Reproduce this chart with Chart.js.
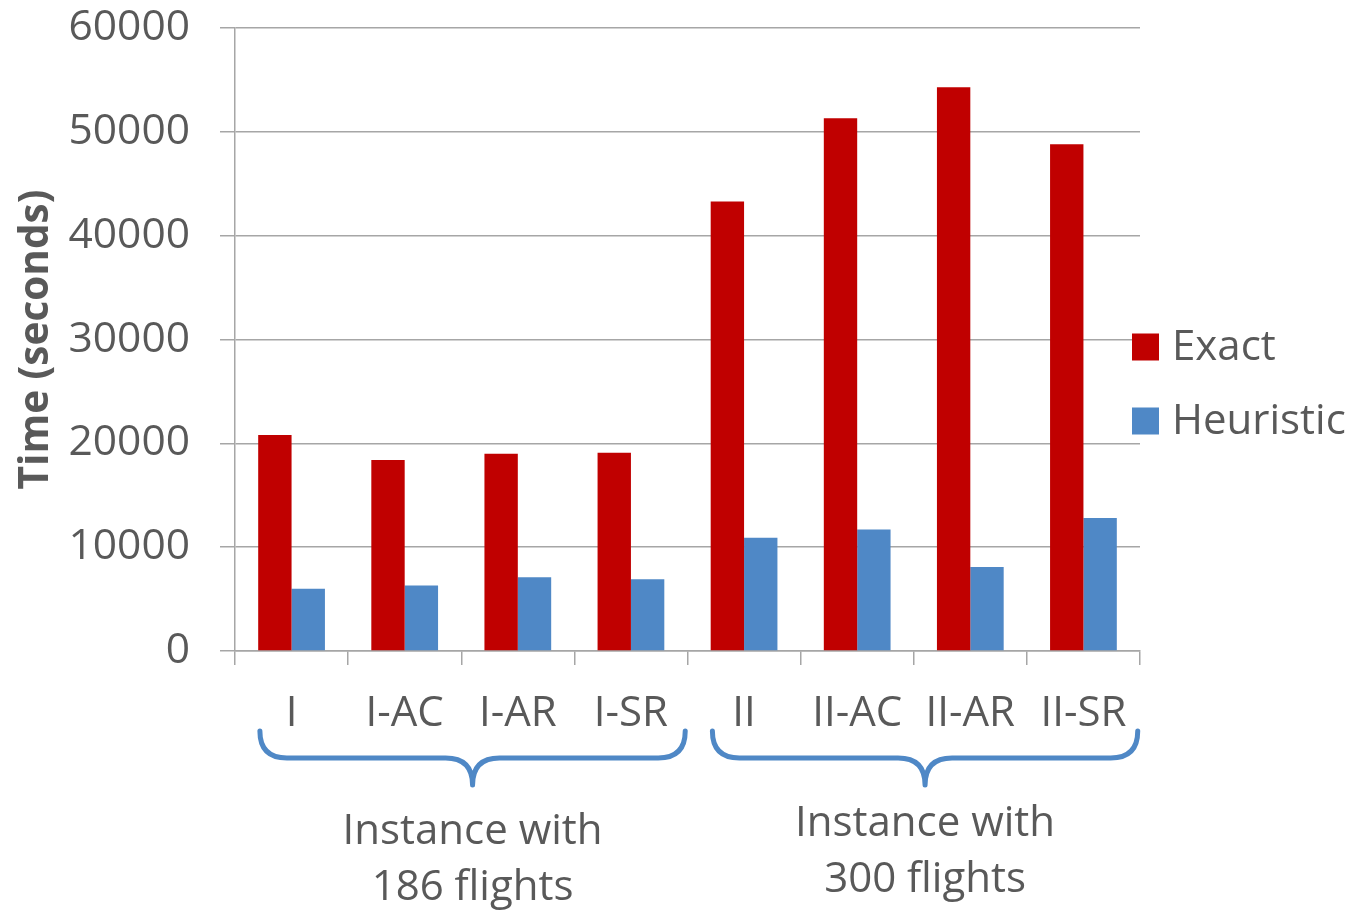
<!DOCTYPE html>
<html>
<head>
<meta charset="utf-8">
<script src="https://cdn.jsdelivr.net/npm/chart.js@4.4.1/dist/chart.umd.min.js"></script>
<style>
  html, body { margin: 0; padding: 0; background: #fff; }
  #wrap { width: 1348px; height: 911px; position: relative; }
</style>
</head>
<body>
<div id="wrap"><canvas id="c" width="1348" height="911"></canvas></div>
<script>
const categories = ['I', 'I-AC', 'I-AR', 'I-SR', 'II', 'II-AC', 'II-AR', 'II-SR'];
const exactValues = [20800, 18400, 19000, 19100, 43300, 51300, 54300, 48800];
const heuristicValues = [6000, 6300, 7100, 6900, 10900, 11700, 8100, 12800];
const seriesNames = ['Exact', 'Heuristic'];
const seriesColors = ['#C00000', '#4F88C6'];
const yTickLabels = ['0', '10000', '20000', '30000', '40000', '50000', '60000'];
const groups = [
  { first: 0, last: 3, lines: ['Instance with', '186 flights'] },
  { first: 4, last: 7, lines: ['Instance with', '300 flights'] }
];

const FONT = '"Open Sans", "Noto Sans", sans-serif';
const TEXT = '#595959';
const GRID = '#A6A6A6';

const legendPlugin = {
  id: 'customLegend',
  afterDraw(chart) {
    const ctx = chart.ctx;
    ctx.save();
    ctx.font = '42px ' + FONT;
    ctx.textBaseline = 'middle';
    ctx.textAlign = 'left';
    const ys = [347, 421];
    chart.data.datasets.forEach((ds, i) => {
      ctx.fillStyle = ds.backgroundColor;
      ctx.fillRect(1132, ys[i] - 13.5, 27, 27);
      ctx.fillStyle = TEXT;
      ctx.fillText(ds.label, 1172, ys[i] + 1);
    });
    ctx.restore();
  }
};

const bracePlugin = {
  id: 'braces',
  afterDraw(chart) {
    const ctx = chart.ctx;
    const xs = chart.scales.x;
    const catW = xs.getPixelForValue(1) - xs.getPixelForValue(0);
    const textYs = [[832, 888], [824, 880]];
    ctx.save();
    groups.forEach((g, gi) => {
      const x0 = xs.getPixelForValue(g.first) - catW * 0.28;
      const x1 = xs.getPixelForValue(g.last) + catW * 0.48;
      const xm = (x0 + x1) / 2;
      const yTop = 731, yMid = 758, yTip = 785, r = 27;
      ctx.strokeStyle = '#4F88C6';
      ctx.lineWidth = 5;
      ctx.lineCap = 'round';
      ctx.lineJoin = 'round';
      ctx.beginPath();
      ctx.moveTo(x0, yTop);
      ctx.quadraticCurveTo(x0, yMid, x0 + r, yMid);
      ctx.lineTo(xm - r, yMid);
      ctx.quadraticCurveTo(xm, yMid, xm, yTip);
      ctx.quadraticCurveTo(xm, yMid, xm + r, yMid);
      ctx.lineTo(x1 - r, yMid);
      ctx.quadraticCurveTo(x1, yMid, x1, yTop);
      ctx.stroke();
      ctx.fillStyle = TEXT;
      ctx.font = '42px ' + FONT;
      ctx.textAlign = 'center';
      ctx.textBaseline = 'middle';
      g.lines.forEach((t, li) => ctx.fillText(t, xm, textYs[gi][li]));
    });
    ctx.restore();
  }
};

new Chart(document.getElementById('c'), {
  type: 'bar',
  data: {
    labels: categories,
    datasets: [
      { label: seriesNames[0], data: exactValues, backgroundColor: seriesColors[0] },
      { label: seriesNames[1], data: heuristicValues, backgroundColor: seriesColors[1] }
    ]
  },
  options: {
    responsive: false,
    animation: false,
    events: [],
    layout: { padding: { top: 28, right: 208, bottom: 0, left: 0 } },
    datasets: { bar: { categoryPercentage: 0.59, barPercentage: 1.0 } },
    plugins: { legend: { display: false }, tooltip: { enabled: false } },
    scales: {
      x: {
        afterFit(scale) { scale.height = 260; scale.paddingLeft = 0; scale.paddingRight = 0; },
        grid: { display: true, drawOnChartArea: false, drawTicks: true, tickLength: 14, color: GRID, lineWidth: 1.5 },
        border: { display: true, color: GRID, width: 1.5 },
        ticks: { color: TEXT, font: { family: FONT, size: 42 }, padding: 24, maxRotation: 0, autoSkip: false }
      },
      y: {
        min: 0, max: 60000,
        afterFit(scale) { scale.width = 235; scale.paddingTop = 0; scale.paddingBottom = 0; },
        grid: { color: GRID, lineWidth: 1.5, tickLength: 15 },
        border: { display: true, color: GRID, width: 1.5 },
        ticks: {
          stepSize: 10000,
          color: TEXT,
          font: { family: FONT, size: 42.5 },
          padding: 30,
          callback: (v, i) => yTickLabels[i]
        },
        title: {
          display: true,
          text: 'Time (seconds)',
          color: TEXT,
          font: { family: FONT, size: 40.5, weight: 'bold' },
          padding: { top: 12, bottom: 0 }
        }
      }
    }
  },
  plugins: [legendPlugin, bracePlugin]
});
</script>
</body>
</html>
